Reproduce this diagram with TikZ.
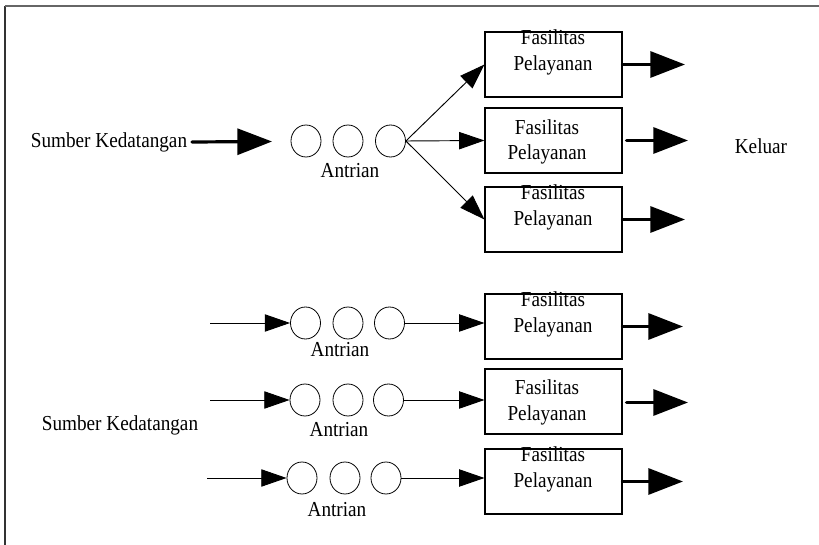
\documentclass[tikz,border=0pt]{standalone}
\usepackage{fontspec}
\setmainfont{Liberation Serif}[FakeStretch=0.9]
\usetikzlibrary{arrows.meta,shapes.geometric}
\begin{document}
\begin{tikzpicture}[x=0.75pt,y=-0.75pt,
  txt/.style={font=\fontsize{16}{19}\selectfont, inner sep=0pt, align=center},
  circ/.style={draw, ellipse, minimum width=22.5pt, minimum height=24pt, inner sep=0pt, line width=0.6pt},
  box/.style={draw, minimum width=102.75pt, minimum height=48.75pt, inner sep=0pt, line width=0.8pt},
  bigarrow/.style={line width=2.4pt, line cap=round, -{Triangle[length=26pt,width=19.5pt]}},
  smallarrow/.style={line width=0.7pt, -{Triangle[length=19pt,width=13pt]}},
  frameline/.style={line width=1.4pt}]
\useasboundingbox (0,0) rectangle (819,545);

% frame
\draw[frameline, black!80] (5,545) -- (5,6);
\draw[frameline, black!60] (5,6) -- (819,6);

% ---------- top section ----------
\node[txt] (src1) at (109,142) {Sumber Kedatangan};
\coordinate (t1) at (272,141.5);
\node[circ] (a1) at (306,141) {};
\node[circ] (a2) at (348,141) {};
\node[circ] (a3) at (390.5,141) {};
\node[txt] (q0) at (350,171) {Antrian};

\node[box] (b1) at (553.5,64.5) {};
\node[box] (b2) at (553.5,140.5) {};
\node[box] (b3) at (553.5,219.5) {};
\node[txt] (f1) at (553,52.5) {Fasilitas\\Pelayanan};
\node[txt] (f2) at (547,142) {Fasilitas\\Pelayanan};
\node[txt] (f3) at (553,207.5) {Fasilitas\\Pelayanan};

\draw[bigarrow] ([xshift=3.5pt]src1.east) -- (t1);
\draw[smallarrow] (a3.east) -- (b1.west);
\draw[smallarrow] (a3.east) -- (b2.west);
\draw[smallarrow] (a3.east) -- (b3.west);

\coordinate (o1) at (685,64.5);
\coordinate (o2) at (688,140.5);
\coordinate (o3) at (685,219.5);
\draw[bigarrow] (b1.east) -- (o1);
\draw[bigarrow] ([xshift=3pt]b2.east) -- (o2);
\draw[bigarrow] (b3.east) -- (o3);

\node[txt] (out) at (761,146) {Keluar};

% ---------- bottom section ----------
\node[txt] (src2) at (120,425) {Sumber Kedatangan};

\node[circ] (r1a) at (305.5,323) {};
\node[circ] (r1b) at (348,323) {};
\node[circ] (r1c) at (389.5,323) {};
\node[txt] (q1) at (340,350) {Antrian};

\node[circ] (r2a) at (305,400) {};
\node[circ] (r2b) at (348,400) {};
\node[circ] (r2c) at (388.5,400) {};
\node[txt] (q2) at (339,430) {Antrian};

\node[circ] (r3a) at (302,478) {};
\node[circ] (r3b) at (345,478) {};
\node[circ] (r3c) at (386,478) {};
\node[txt] (q3) at (337,510) {Antrian};

\node[box] (b4) at (553.5,326.5) {};
\node[box] (b5) at (553.5,401.5) {};
\node[box] (b6) at (553.5,481.5) {};
\node[txt] (f4) at (553,314.5) {Fasilitas\\Pelayanan};
\node[txt] (f5) at (547,402.5) {Fasilitas\\Pelayanan};
\node[txt] (f6) at (553,469.5) {Fasilitas\\Pelayanan};

\coordinate (s4) at (210,323);
\coordinate (s5) at (210,400);
\coordinate (s6) at (207,478);
\draw[smallarrow] (s4) -- (r1a.west);
\draw[smallarrow] (s5) -- (r2a.west);
\draw[smallarrow] (s6) -- (r3a.west);

\draw[smallarrow] (r1c.east) -- (r1c.east -| b4.west);
\draw[smallarrow] (r2c.east) -- (r2c.east -| b5.west);
\draw[smallarrow] (r3c.east) -- (r3c.east -| b6.west);

\coordinate (o4) at (683,326.5);
\coordinate (o5) at (688,402.5);
\coordinate (o6) at (683,481.5);
\draw[bigarrow] (b4.east) -- (o4);
\draw[bigarrow] ([xshift=3pt,yshift=-0.75pt]b5.east) -- (o5);
\draw[bigarrow] (b6.east) -- (o6);
\end{tikzpicture}
\end{document}
